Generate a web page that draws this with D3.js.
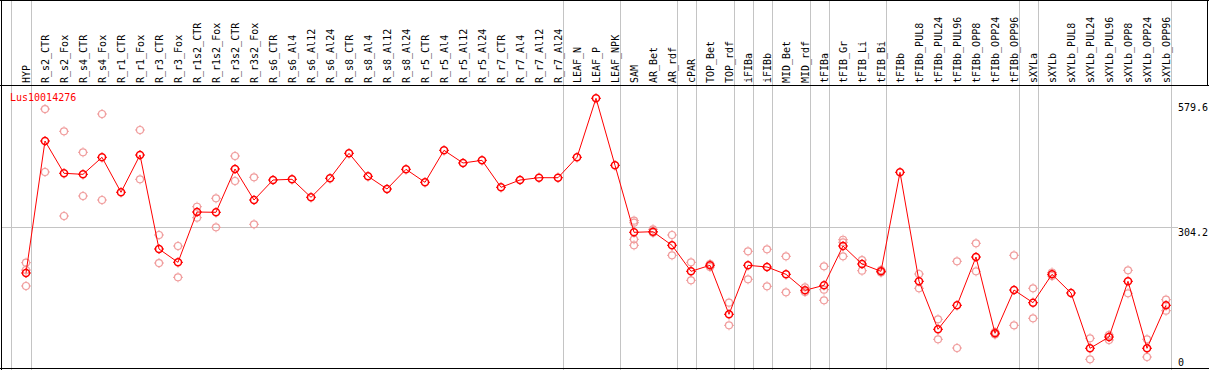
<!DOCTYPE html>
<html>
<head>
<meta charset="utf-8">
<script src="https://cdn.jsdelivr.net/npm/d3@7"></script>
<style>
  body { margin: 0; background: #fff; }
  svg { display: block; font-family: "DejaVu Sans Mono", monospace; font-size: 10px; }
</style>
</head>
<body>
<svg id="chart" width="1209" height="370"></svg>
<script>
// sample names along the top
var samples = ["HYP", "R_s2_CTR", "R_s2_Fox", "R_s4_CTR", "R_s4_Fox", "R_r1_CTR", "R_r1_Fox",
  "R_r3_CTR", "R_r3_Fox", "R_r1s2_CTR", "R_r1s2_Fox", "R_r3s2_CTR", "R_r3s2_Fox",
  "R_s6_CTR", "R_s6_Al4", "R_s6_Al12", "R_s6_Al24", "R_s8_CTR", "R_s8_Al4", "R_s8_Al12", "R_s8_Al24",
  "R_r5_CTR", "R_r5_Al4", "R_r5_Al12", "R_r5_Al24", "R_r7_CTR", "R_r7_Al4", "R_r7_Al12", "R_r7_Al24",
  "LEAF_N", "LEAF_P", "LEAF_NPK", "SAM", "AR_Bet", "AR_rdf", "cPAR", "TOP_Bet", "TOP_rdf",
  "iFIBa", "iFIBb", "MID_Bet", "MID_rdf", "tFIBa", "tFIB_Gr", "tFIB_Li", "tFIB_Bi",
  "tFIBb", "tFIBb_PUL8", "tFIBb_PUL24", "tFIBb_PUL96", "tFIBb_OPP8", "tFIBb_OPP24", "tFIBb_OPP96",
  "sXYLa", "sXYLb", "sXYLb_PUL8", "sXYLb_PUL24", "sXYLb_PUL96", "sXYLb_OPP8", "sXYLb_OPP24", "sXYLb_OPP96"];

// mean expression per sample
var means = [206.9, 488.5, 419.6, 417.4, 453.7, 379.1, 458.6, 258.1, 229.7, 337.0, 336.4, 428.8, 362.6,
  405.3, 406.8, 368.4, 408.9, 462.2, 413.2, 386.1, 428.1, 400.4, 468.6, 441.6, 447.3, 389.7, 405.3, 410.2, 410.2,
  453.7, 579.6, 436.6, 293.7, 295.0, 266.0, 210.5, 223.3, 118.8, 223.3, 219.7, 204.1, 170.0, 180.7, 264.5, 226.1, 210.5,
  421.7, 189.2, 86.8, 138.0, 241.0, 78.3, 170.6, 143.6, 204.1, 164.3, 46.3, 70.4, 189.2, 46.3, 138.0];

// individual replicates per sample
var replicates = [[228.9, 213.3, 179.2], [556.7, 422.4], [509.2, 328.5], [464.4, 371.2], [546.1, 362.6], [],
  [512.0, 406.8], [288.0, 228.2], [264.5, 197.7], [348.3, 324.9], [366.3, 304.4], [456.5, 403.2], [411.1, 310.8],
  [], [], [], [], [], [], [], [], [], [], [], [], [], [], [], [], [], [], [],
  [318.5, 314.2, 278.8, 266.0], [300.1, 292.9], [288.0, 244.7], [229.7, 191.3], [226.1, 219.7], [143.6, 95.3],
  [253.2, 193.5], [257.5, 178.5], [242.5, 165.7], [176.4, 166.4], [221.2, 171.3, 148.7], [277.9, 272.4, 242.5],
  [234.6, 211.8], [213.3, 208.0], [], [204.8, 174.3], [108.1, 65.5], [231.9, 46.9], [270.3, 210.5], [81.1, 75.7],
  [244.7, 95.3], [174.3, 110.3], [208.0, 200.5], [], [67.6, 22.8], [74.7, 64.0], [212.7, 163.6], [65.5, 27.7],
  [150.0, 126.5]];

// group boundaries: separator drawn after these samples
var groupEnds = ["HYP", "R_r7_Al24", "LEAF_NPK", "AR_rdf", "cPAR", "TOP_rdf", "iFIBa", "iFIBb",
  "MID_rdf", "tFIBa", "tFIB_Bi", "tFIBb_OPP96", "sXYLa", "sXYLb_OPP96"];

var axisTicks = [579.6, 304.2, 0];
var geneName = "Lus10014276";

var width = 1209, height = 370, headerBottom = 85.5, plotBottom = 368.5;
var svg = d3.select("#chart");

var x = d3.scalePoint().domain(samples).range([26, 1166]);
var y = d3.scaleLinear().domain([0, 579.6]).range([370, 98.3]);

// horizontal grid line at the middle tick
svg.append("line")
  .attr("x1", 1).attr("x2", 1178)
  .attr("y1", Math.round(y(304.2)) + 0.5).attr("y2", Math.round(y(304.2)) + 0.5)
  .style("stroke", "#c4c4c4");

// group separators (full height)
var seps = [x(samples[0]) - 15].concat(groupEnds.map(function (d) { return x(d) + 4.5; }));
svg.selectAll(".sep").data(seps).enter().append("line")
  .attr("class", "sep")
  .attr("x1", function (d) { return Math.round(d) + 0.5; })
  .attr("x2", function (d) { return Math.round(d) + 0.5; })
  .attr("y1", 0).attr("y2", height)
  .style("stroke", "#c4c4c4");

// frame
svg.append("line").attr("x1", 0).attr("x2", width).attr("y1", 0.5).attr("y2", 0.5).style("stroke", "#000");
svg.append("line").attr("x1", 0).attr("x2", width).attr("y1", headerBottom).attr("y2", headerBottom).style("stroke", "#000");
svg.append("line").attr("x1", 0).attr("x2", width).attr("y1", plotBottom).attr("y2", plotBottom).style("stroke", "#000");
svg.append("line").attr("x1", 1.5).attr("x2", 1.5).attr("y1", 0).attr("y2", height).style("stroke", "#000");
svg.append("line").attr("x1", 1207.5).attr("x2", 1207.5).attr("y1", 0).attr("y2", headerBottom).style("stroke", "#000");

// rotated sample labels
svg.selectAll(".lab").data(samples).enter().append("text")
  .attr("class", "lab")
  .attr("transform", function (d) { return "translate(" + (x(d) + 0.5) + ",83) rotate(-90)"; })
  .attr("dominant-baseline", "central")
  .style("fill", "#000")
  .text(function (d) { return d; });

// right axis values
svg.selectAll(".tick").data(axisTicks).enter().append("text")
  .attr("class", "tick")
  .attr("x", 1178)
  .attr("y", function (d) { return Math.max(107, Math.min(362, y(d) + 5)); })
  .attr("dominant-baseline", "central")
  .style("fill", "#000")
  .text(function (d) { return d; });

// gene name
svg.append("text")
  .attr("x", 10).attr("y", 97)
  .attr("dominant-baseline", "central")
  .style("fill", "#ff0000")
  .text(geneName);

// marker: circle with four little ticks
function marker(sel, color, sw) {
  sel.append("circle").attr("r", 3.5).style("fill", "none").style("stroke", color).style("stroke-width", sw);
  [[0, -1], [0, 1], [-1, 0], [1, 0]].forEach(function (v) {
    sel.append("line")
      .attr("x1", v[0] * 4).attr("y1", v[1] * 4)
      .attr("x2", v[0] * 5).attr("y2", v[1] * 5)
      .style("stroke", color).style("stroke-width", 1);
  });
}

// replicates
var repPoints = [];
replicates.forEach(function (list, i) {
  list.forEach(function (v) { repPoints.push({ s: samples[i], v: v }); });
});
svg.selectAll(".rep").data(repPoints).enter().append("g")
  .attr("class", "rep")
  .attr("transform", function (d) { return "translate(" + x(d.s) + "," + y(d.v) + ")"; })
  .each(function () { marker(d3.select(this), "#f09c9c", 1.2); });

// mean line
var line = d3.line()
  .x(function (d, i) { return x(samples[i]); })
  .y(function (d) { return y(d); });
svg.append("path")
  .datum(means)
  .attr("d", line)
  .style("fill", "none")
  .style("stroke", "#ff0000")
  .style("stroke-width", 1);

// mean markers
svg.selectAll(".mean").data(means).enter().append("g")
  .attr("class", "mean")
  .attr("transform", function (d, i) { return "translate(" + x(samples[i]) + "," + y(d) + ")"; })
  .each(function () { marker(d3.select(this), "#ff0000", 1.5); });
</script>
</body>
</html>
